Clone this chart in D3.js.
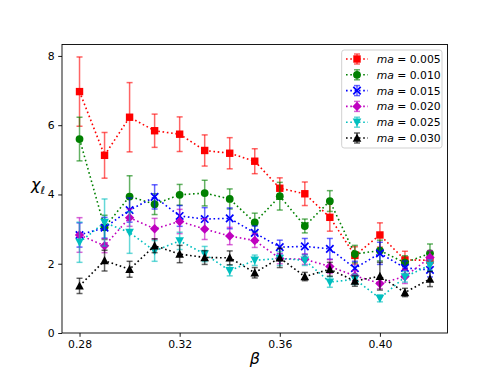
<!DOCTYPE html>
<html>
<head>
<meta charset="utf-8">
<script src="https://cdn.jsdelivr.net/npm/d3@7"></script>
<style>
  body { margin: 0; background: #fff; }
  text { font-family: "DejaVu Sans", sans-serif; }
</style>
</head>
<body>
<svg width="498" height="374"></svg>
<script>
let width = 498, height = 374
let margin = {left: 62, right: 50.5, top: 44.5, bottom: 41}

let beta = [0.28, 0.29, 0.30, 0.31, 0.32, 0.33, 0.34, 0.35, 0.36, 0.37, 0.38, 0.39, 0.40, 0.41, 0.42]
let xTicks = [0.28, 0.32, 0.36, 0.40]
let yTicks = [0, 2, 4, 6, 8]

let labels = ['0.005', '0.010', '0.015', '0.020', '0.025', '0.030']

let chi005 = [6.97, 5.13, 6.23, 5.84, 5.74, 5.27, 5.19, 4.96, 4.18, 4.02, 3.34, 2.24, 2.83, 2.11, 2.10]
let err005 = [1.00, 0.66, 1.00, 0.48, 0.50, 0.45, 0.45, 0.36, 0.30, 0.34, 0.40, 0.25, 0.35, 0.25, 0.20]

let chi010 = [5.60, 3.05, 3.94, 3.72, 3.99, 4.04, 3.87, 3.19, 3.95, 3.09, 3.81, 2.28, 2.38, 2.03, 2.30]
let err010 = [0.63, 0.35, 0.60, 0.30, 0.30, 0.37, 0.29, 0.27, 0.40, 0.20, 0.30, 0.25, 0.30, 0.20, 0.27]

let chi015 = [2.83, 3.04, 3.55, 3.93, 3.38, 3.29, 3.31, 2.89, 2.48, 2.50, 2.43, 1.87, 2.30, 1.88, 1.82]
let err015 = [0.35, 0.30, 0.35, 0.35, 0.30, 0.33, 0.30, 0.20, 0.20, 0.23, 0.30, 0.20, 0.32, 0.20, 0.20]

let chi020 = [2.83, 2.52, 3.33, 3.01, 3.22, 3.00, 2.80, 2.67, 2.15, 2.13, 1.92, 1.65, 1.43, 1.63, 2.18]
let err020 = [0.50, 0.20, 0.25, 0.30, 0.35, 0.30, 0.25, 0.20, 0.15, 0.15, 0.20, 0.15, 0.15, 0.20, 0.20]

let chi025 = [2.62, 3.19, 2.90, 2.37, 2.66, 2.28, 1.80, 2.10, 2.15, 2.10, 1.47, 1.55, 1.00, 1.62, 1.96]
let err025 = [0.58, 0.68, 0.60, 0.30, 0.25, 0.22, 0.15, 0.15, 0.20, 0.15, 0.15, 0.15, 0.10, 0.15, 0.15]

let chi030 = [1.36, 2.09, 1.84, 2.52, 2.28, 2.18, 2.17, 1.74, 2.17, 1.63, 1.84, 1.50, 1.64, 1.17, 1.56]
let err030 = [0.22, 0.30, 0.23, 0.20, 0.25, 0.20, 0.20, 0.15, 0.28, 0.12, 0.20, 0.15, 0.40, 0.12, 0.22]

let series = [
    {label: labels[0], values: chi005, errors: err005, color: '#ff0000', marker: 'square'},
    {label: labels[1], values: chi010, errors: err010, color: '#008000', marker: 'circle'},
    {label: labels[2], values: chi015, errors: err015, color: '#0000ff', marker: 'x'},
    {label: labels[3], values: chi020, errors: err020, color: '#bf00bf', marker: 'diamond'},
    {label: labels[4], values: chi025, errors: err025, color: '#00bfbf', marker: 'down'},
    {label: labels[5], values: chi030, errors: err030, color: '#000000', marker: 'up'},
]

let x = d3.scaleLinear().domain([0.273, 0.427]).range([margin.left, width - margin.right])
let y = d3.scaleLinear().domain([0, 8.33]).range([height - margin.bottom, margin.top])

let svg = d3.select('svg')

// draws one marker centred at (cx, cy)
function drawMarker(g, kind, cx, cy, color) {
    if (kind === 'square') {
        g.append('rect').attr('x', cx - 3.7).attr('y', cy - 3.7).attr('width', 7.4).attr('height', 7.4)
        .attr('fill', color)
    } else if (kind === 'circle') {
        g.append('circle').attr('cx', cx).attr('cy', cy).attr('r', 3.9).attr('fill', color)
    } else if (kind === 'x') {
        g.append('path').attr('d', `M${cx-3.7},${cy-3.7}L${cx+3.7},${cy+3.7}M${cx-3.7},${cy+3.7}L${cx+3.7},${cy-3.7}`)
        .attr('stroke', color).attr('stroke-width', 1.7)
    } else if (kind === 'diamond') {
        g.append('path').attr('d', `M${cx},${cy-4.7}L${cx+4.7},${cy}L${cx},${cy+4.7}L${cx-4.7},${cy}Z`)
        .attr('fill', color)
    } else if (kind === 'down') {
        g.append('path').attr('d', `M${cx-4.3},${cy-3.7}L${cx+4.3},${cy-3.7}L${cx},${cy+4.5}Z`)
        .attr('fill', color)
    } else if (kind === 'up') {
        g.append('path').attr('d', `M${cx-4.3},${cy+3.7}L${cx+4.3},${cy+3.7}L${cx},${cy-4.5}Z`)
        .attr('fill', color)
    }
}

function drawErrorBar(g, cx, yTop, yBottom, color) {
    g.append('line').attr('x1', cx).attr('x2', cx).attr('y1', yTop).attr('y2', yBottom)
    .attr('stroke', color).attr('stroke-width', 1.5).attr('opacity', 0.6)
    g.append('line').attr('x1', cx - 3).attr('x2', cx + 3).attr('y1', yTop).attr('y2', yTop)
    .attr('stroke', color).attr('stroke-width', 1.5).attr('opacity', 0.6)
    g.append('line').attr('x1', cx - 3).attr('x2', cx + 3).attr('y1', yBottom).attr('y2', yBottom)
    .attr('stroke', color).attr('stroke-width', 1.5).attr('opacity', 0.6)
}

let plot = svg.append('g')
let line = d3.line().x((d, i) => x(beta[i])).y(d => y(d))

series.forEach(function (s) {
    let g = plot.append('g')
    g.append('path')
    .attr('d', line(s.values))
    .attr('fill', 'none')
    .attr('stroke', s.color)
    .attr('stroke-width', 1.6)
    .attr('stroke-dasharray', '1.6,2.7')
    s.values.forEach(function (v, i) {
        drawErrorBar(g, x(beta[i]), y(v + s.errors[i]), y(v - s.errors[i]), s.color)
    })
    s.values.forEach(function (v, i) {
        drawMarker(g, s.marker, x(beta[i]), y(v), s.color)
    })
})

// axes
let xAxis = svg.append('g')
.attr('transform', `translate(0,${height - margin.bottom})`)
.call(d3.axisBottom(x).tickValues(xTicks).tickFormat(d3.format('.2f')).tickSizeOuter(0).tickSize(3.8).tickPadding(3.5))
let yAxis = svg.append('g')
.attr('transform', `translate(${margin.left},0)`)
.call(d3.axisLeft(y).tickValues(yTicks).tickFormat(d3.format('d')).tickSizeOuter(0).tickSize(3.8).tickPadding(3.5))

;[xAxis, yAxis].forEach(function (a) {
    a.select('.domain').remove()
    a.selectAll('line').attr('stroke', '#000').attr('stroke-width', 0.9)
    a.selectAll('text').attr('font-size', 10.8).attr('fill', '#000').style('font-family', '"DejaVu Sans", sans-serif')
})

svg.append('rect')
.attr('x', margin.left).attr('y', margin.top)
.attr('width', width - margin.left - margin.right)
.attr('height', height - margin.top - margin.bottom)
.attr('fill', 'none').attr('stroke', '#000').attr('stroke-width', 0.9)

// axis labels
svg.append('text')
.attr('x', x(0.35)).attr('y', 364)
.attr('text-anchor', 'middle')
.attr('font-size', 16).attr('font-style', 'italic')
.text('β')

let ylab = svg.append('text')
.attr('x', 31).attr('y', 190)
.attr('font-size', 16).attr('font-style', 'italic')
ylab.append('tspan').text('χ')
ylab.append('tspan').attr('font-size', 11).attr('dy', 4).text('ℓ')

// legend
let lx = 341.7, ly = 50, lw = 100.3, lh = 98
let legend = svg.append('g')
legend.append('rect')
.attr('x', lx).attr('y', ly).attr('width', lw).attr('height', lh)
.attr('rx', 2.5).attr('fill', '#fff').attr('fill-opacity', 0.8)
.attr('stroke', '#cccccc').attr('stroke-width', 0.9)

series.forEach(function (s, i) {
    let cy = 59 + i * 15.8
    let g = legend.append('g')
    g.append('line').attr('x1', 346).attr('x2', 368).attr('y1', cy).attr('y2', cy)
    .attr('stroke', s.color).attr('stroke-width', 1.6).attr('stroke-dasharray', '1.6,2.7')
    drawErrorBar(g, 357, cy - 5, cy + 5, s.color)
    drawMarker(g, s.marker, 357, cy, s.color)
    let t = g.append('text').attr('x', 376.7).attr('y', cy + 4).attr('font-size', 10.8)
    t.append('tspan').attr('font-style', 'italic').text('ma')
    t.append('tspan').text(' = ' + s.label)
})
</script>
</body>
</html>
